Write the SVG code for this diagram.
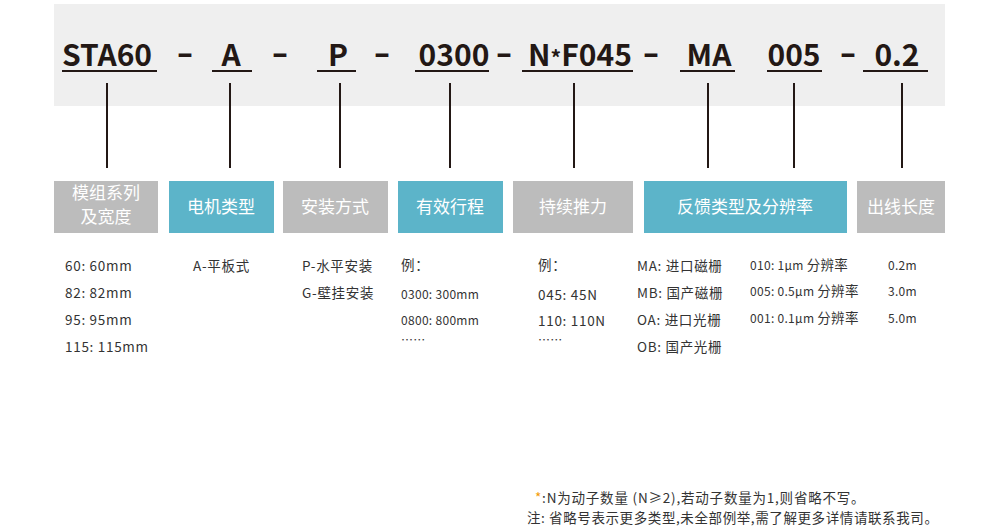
<svg xmlns="http://www.w3.org/2000/svg" width="1000" height="528" viewBox="0 0 1000 528">
<style>
.code{font-family:"Noto Sans CJK SC","Noto Sans",sans-serif;font-weight:bold;font-size:30px;fill:#231815;text-anchor:middle}
.dash{font-family:"Noto Sans",sans-serif;font-weight:bold;font-size:30px;fill:#231815;text-anchor:middle}
.ul{stroke:#231815;stroke-width:2}
.con{stroke:#231815;stroke-width:2}
.gray{fill:#bcbcbc}
.blue{fill:#5cb4c9}
.bt{font-family:"Noto Sans CJK SC",sans-serif;font-size:17px;fill:#ffffff;text-anchor:middle}
.t{font-family:"Noto Sans CJK SC",sans-serif;font-size:13.5px;fill:#333333;letter-spacing:0.7px}
.s{font-family:"Noto Sans CJK SC",sans-serif;font-size:12px;fill:#333333;letter-spacing:0.3px}
.f{font-family:"Noto Sans CJK SC",sans-serif;font-size:13.5px;fill:#333333}
</style>
<rect x="54" y="4" width="891" height="102" fill="#efefef"/>
<g id="code">
<text class="code" x="107" y="66">STA60</text>
<line class="ul" x1="62" y1="71" x2="157" y2="71"/>
<text class="dash" x="185" y="64">–</text>
<text class="code" x="231" y="66">A</text>
<line class="ul" x1="212" y1="71" x2="252" y2="71"/>
<text class="dash" x="280" y="64">–</text>
<text class="code" x="338" y="66">P</text>
<line class="ul" x1="317" y1="71" x2="356" y2="71"/>
<text class="dash" x="382" y="64">–</text>
<text class="code" x="454" y="66">0300</text>
<line class="ul" x1="415" y1="71" x2="489" y2="71"/>
<text class="dash" x="504" y="64">–</text>
<text class="code" x="580" y="66">N<tspan font-size="21">*</tspan>F045</text>
<line class="ul" x1="522" y1="71" x2="633" y2="71"/>
<text class="dash" x="651" y="64">–</text>
<text class="code" x="709" y="66">MA</text>
<line class="ul" x1="680" y1="71" x2="735" y2="71"/>
<text class="code" x="794" y="66">005</text>
<line class="ul" x1="767" y1="71" x2="822" y2="71"/>
<text class="dash" x="848" y="64">–</text>
<text class="code" x="897" y="66">0.2</text>
<line class="ul" x1="863" y1="71" x2="928" y2="71"/>
</g>
<g id="connectors">
<line class="con" x1="107" y1="83" x2="107" y2="168"/>
<line class="con" x1="230" y1="83" x2="230" y2="168"/>
<line class="con" x1="340" y1="83" x2="340" y2="168"/>
<line class="con" x1="450" y1="83" x2="450" y2="168"/>
<line class="con" x1="574" y1="83" x2="574" y2="168"/>
<line class="con" x1="708" y1="83" x2="708" y2="168"/>
<line class="con" x1="794" y1="83" x2="794" y2="168"/>
<line class="con" x1="902" y1="83" x2="902" y2="168"/>
</g>
<g id="n1">
<rect class="gray" x="54" y="181" width="104" height="52"/>
<text class="bt" x="106" y="199">模组系列</text>
<text class="bt" x="106" y="223">及宽度</text>
<text class="t" x="65" y="271">60: 60mm</text>
<text class="t" x="65" y="298">82: 82mm</text>
<text class="t" x="65" y="325">95: 95mm</text>
<text class="t" x="65" y="352">115: 115mm</text>
</g>
<g id="n2">
<rect class="blue" x="169" y="181" width="105" height="52"/>
<text class="bt" x="221" y="213">电机类型</text>
<text class="t" x="193" y="271">A-平板式</text>
</g>
<g id="n3">
<rect class="gray" x="283" y="181" width="105" height="52"/>
<text class="bt" x="335" y="213">安装方式</text>
<text class="t" x="302" y="271">P-水平安装</text>
<text class="t" x="302" y="298">G-壁挂安装</text>
</g>
<g id="n4">
<rect class="blue" x="398" y="181" width="105" height="52"/>
<text class="bt" x="450" y="213">有效行程</text>
<text class="t" x="401" y="270">例：</text>
<text class="s" x="401" y="299">0300: 300mm</text>
<text class="s" x="401" y="325">0800: 800mm</text>
<text class="s" x="401" y="345">……</text>
</g>
<g id="n5">
<rect class="gray" x="513" y="181" width="120" height="52"/>
<text class="bt" x="573" y="213">持续推力</text>
<text class="t" x="538" y="270">例：</text>
<text class="t" x="538" y="300">045: 45N</text>
<text class="t" x="538" y="326">110: 110N</text>
<text class="s" x="538" y="345">……</text>
</g>
<g id="n6">
<rect class="blue" x="644" y="181" width="203" height="52"/>
<text class="bt" x="745" y="213">反馈类型及分辨率</text>
<text class="t" x="637" y="271">MA: 进口磁栅</text>
<text class="t" x="637" y="298">MB: 国产磁栅</text>
<text class="t" x="637" y="325">OA: 进口光栅</text>
<text class="t" x="637" y="352">OB: 国产光栅</text>
<text class="s" x="750" y="270">010: 1μm <tspan font-size="13.5">分辨率</tspan></text>
<text class="s" x="750" y="296">005: 0.5μm <tspan font-size="13.5">分辨率</tspan></text>
<text class="s" x="750" y="323">001: 0.1μm <tspan font-size="13.5">分辨率</tspan></text>
</g>
<g id="n7">
<rect class="gray" x="857" y="181" width="88" height="52"/>
<text class="bt" x="901" y="213">出线长度</text>
<text class="s" x="888" y="270">0.2m</text>
<text class="s" x="888" y="296">3.0m</text>
<text class="s" x="888" y="323">5.0m</text>
</g>
<g id="note">
<text class="f" x="535" y="503" letter-spacing="0.8"><tspan fill="#f39800">*</tspan>:N为动子数量 (N≥2),若动子数量为1,则省略不写。</text>
<text class="f" x="527" y="523" letter-spacing="0.6">注: 省略号表示更多类型,未全部例举,需了解更多详情请联系我司。</text>
</g>
</svg>
